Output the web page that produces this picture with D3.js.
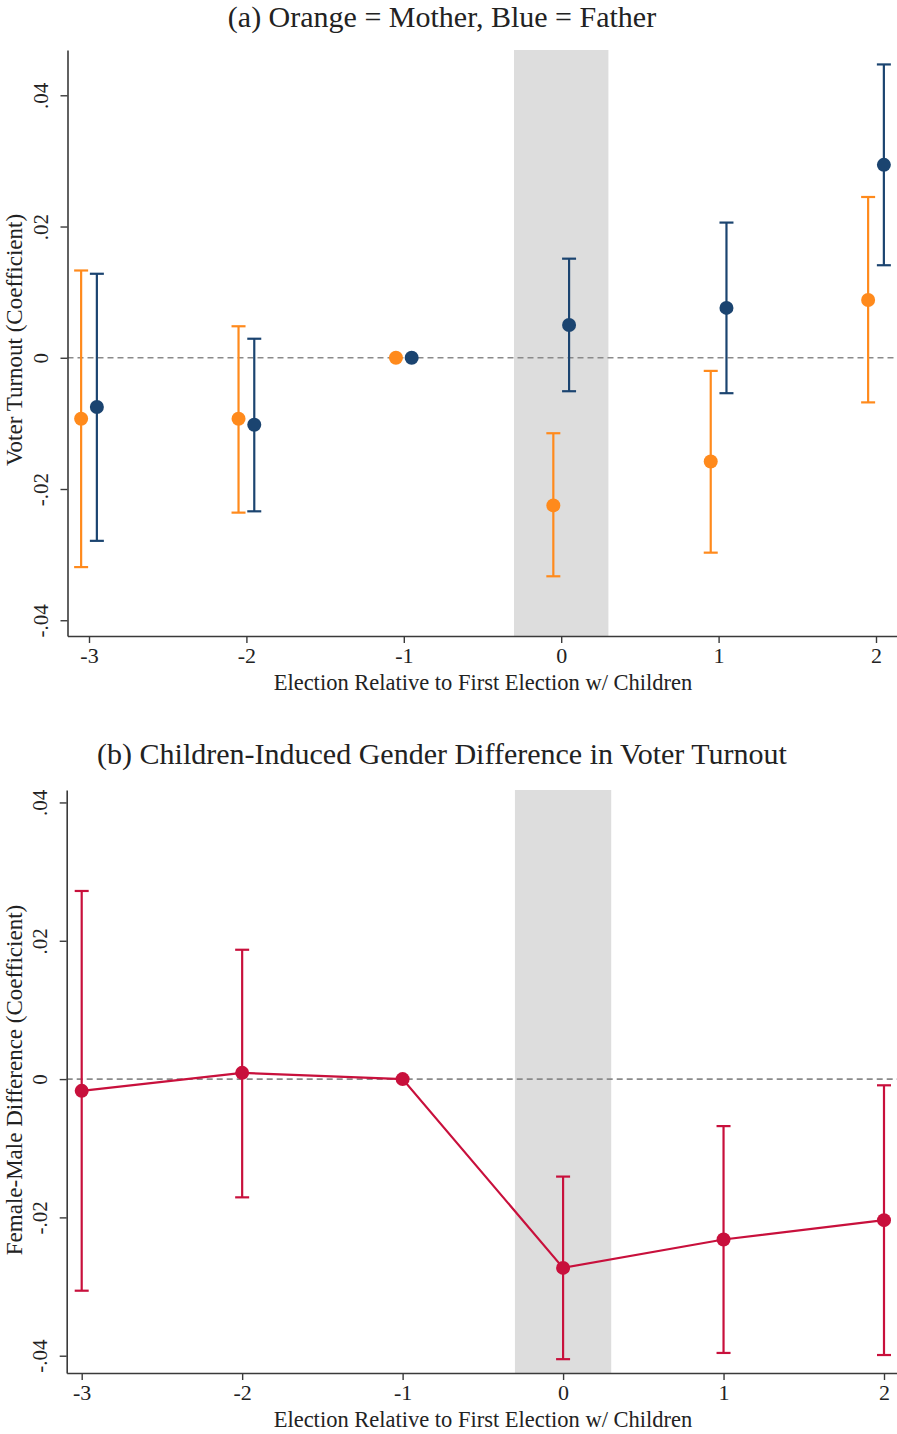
<!DOCTYPE html>
<html><head><meta charset="utf-8">
<script src="https://cdn.jsdelivr.net/npm/d3@7/dist/d3.min.js"></script>
<style>body{margin:0;background:#fff}svg{display:block}text{font-family:"Liberation Serif","Times New Roman",serif;fill:#222}</style>
</head><body>
<script>
const periods = [-3, -2, -1, 0, 1, 2];
const periodLabels = ["-3", "-2", "-1", "0", "1", "2"];
const yTicks = [-0.04, -0.02, 0, 0.02, 0.04];
const yTickLabels = ["-.04", "-.02", "0", ".02", ".04"];
// Panel (a)
const motherCoef = [-0.0093, -0.0093, 0, -0.0225, -0.0158, 0.0088];
const motherLo   = [-0.0319, -0.0236, 0, -0.0333, -0.0297, -0.0068];
const motherHi   = [ 0.0133,  0.0048, 0, -0.0115, -0.0020,  0.0245];
const fatherCoef = [-0.0075, -0.0102, 0,  0.0050,  0.0076,  0.0294];
const fatherLo   = [-0.0279, -0.0234, 0, -0.0051, -0.0054,  0.0141];
const fatherHi   = [ 0.0128,  0.0029, 0,  0.0151,  0.0206,  0.0447];
// Panel (b)
const diffCoef = [-0.0017,  0.0009, 0, -0.0273, -0.0232, -0.0204];
const diffLo   = [-0.0306, -0.0171, 0, -0.0405, -0.0396, -0.0399];
const diffHi   = [ 0.0272,  0.0187, 0, -0.0141, -0.0068, -0.0009];
const shadeRange = [-0.3, 0.3];
const xTitle = "Election Relative to First Election w/ Children";

const W = 897, H = 1434;
const ORANGE = "#FF8A1C", NAVY = "#1B4470", RED = "#C8103C", SHADE = "#DDDDDD", AXIS = "#3a3a3a";
const svg = d3.select("body").append("svg").attr("width", W).attr("height", H);
const fmtY = v => yTickLabels[yTicks.findIndex(t => Math.abs(t - v) < 1e-9)];
const fmtX = v => periodLabels[periods.indexOf(v)];

function panel(cfg) {
  const g = svg.append("g");
  const x = d3.scaleLinear().domain(cfg.xDomain).range(cfg.xRange);
  const y = d3.scaleLinear().domain(cfg.yDomain).range(cfg.yRange);
  const top = cfg.yRange[1], bottom = cfg.yRange[0];
  g.append("rect").attr("x", x(shadeRange[0])).attr("width", x(shadeRange[1]) - x(shadeRange[0]))
    .attr("y", top).attr("height", bottom - top).attr("fill", SHADE);
  g.append("line").attr("x1", cfg.xRange[0]).attr("x2", W).attr("y1", y(0)).attr("y2", y(0))
    .attr("stroke", "#8a8a8a").attr("stroke-width", 1.6).attr("stroke-dasharray", "6,4");
  const ya = g.append("g").attr("transform", `translate(${cfg.xRange[0]},0)`)
    .call(d3.axisLeft(y).tickValues(yTicks).tickFormat(fmtY).tickSize(7).tickSizeOuter(0));
  ya.select(".domain").attr("stroke", AXIS).attr("stroke-width", 1.6);
  ya.selectAll(".tick line").attr("stroke", AXIS).attr("stroke-width", 1.4);
  ya.selectAll(".tick text").attr("font-size", 21).attr("fill", "#222")
    .attr("transform", "rotate(-90)").attr("text-anchor", "middle").attr("x", 0).attr("y", -20).attr("dy", "0");
  const xa = g.append("g").attr("transform", `translate(0,${bottom})`)
    .call(d3.axisBottom(x).tickValues(periods).tickFormat(fmtX).tickSize(7).tickSizeOuter(0));
  xa.select(".domain").attr("stroke", AXIS).attr("stroke-width", 1.6);
  xa.selectAll(".tick line").attr("stroke", AXIS).attr("stroke-width", 1.4);
  xa.selectAll(".tick text").attr("font-size", 22).attr("fill", "#222").attr("y", 11).attr("dy", "0.71em");
  svg.append("text").attr("x", cfg.titleX).attr("y", cfg.titleY).attr("text-anchor", "middle")
    .attr("font-size", cfg.titleSize).text(cfg.title);
  svg.append("text").attr("x", 483).attr("y", bottom + 54).attr("text-anchor", "middle")
    .attr("font-size", 22.5).text(xTitle);
  svg.append("text").attr("transform", `translate(22,${cfg.yTitleY}) rotate(-90)`).attr("text-anchor", "middle")
    .attr("font-size", 23).text(cfg.yTitle);
  return {g, x, y};
}

function errorBars(p, coef, lo, hi, offset, color, cap) {
  const d = periods.map((t, i) => ({t: t + offset, c: coef[i], lo: lo[i], hi: hi[i], ci: t !== -1}));
  const s = p.g.append("g");
  const ci = d.filter(e => e.ci);
  s.selectAll(".v").data(ci).join("line").attr("x1", e => p.x(e.t)).attr("x2", e => p.x(e.t))
    .attr("y1", e => p.y(e.lo)).attr("y2", e => p.y(e.hi)).attr("stroke", color).attr("stroke-width", 2.2);
  ["lo", "hi"].forEach(k => s.selectAll(".c" + k).data(ci).join("line")
    .attr("x1", e => p.x(e.t) - cap).attr("x2", e => p.x(e.t) + cap)
    .attr("y1", e => p.y(e[k])).attr("y2", e => p.y(e[k])).attr("stroke", color).attr("stroke-width", 2.2));
  return {s, d};
}
function dots(p, r, color) {
  r.s.selectAll(".pt").data(r.d).join("circle").attr("cx", e => p.x(e.t)).attr("cy", e => p.y(e.c))
    .attr("r", 7).attr("fill", color);
}

// Panel (a): tick -3 at 89, tick 2 at 876, axis line at 67.5
const ua = (876 - 89) / 5;
const pa = panel({xDomain: [-3 - 21.5 / ua, 2 + (W + 10 - 876) / ua], xRange: [67.5, W + 10],
  yDomain: [-0.0424, 0.0469], yRange: [636, 50],
  title: "(a) Orange = Mother, Blue = Father", titleX: 442, titleY: 27, titleSize: 30,
  yTitle: "Voter Turnout (Coefficient)", yTitleY: 340});
const rm = errorBars(pa, motherCoef, motherLo, motherHi, -0.05, ORANGE, 7);
const rf = errorBars(pa, fatherCoef, fatherLo, fatherHi, 0.05, NAVY, 7);
dots(pa, rm, ORANGE);
dots(pa, rf, NAVY);

// Panel (b): tick -3 at 81.7, tick 2 at 884, axis line at 66.7
const ub = (884 - 81.7) / 5;
const pb = panel({xDomain: [-3 - 15 / ub, 2 + (W + 10 - 884) / ub], xRange: [66.7, W + 10],
  yDomain: [-0.0425, 0.0418], yRange: [1373, 790],
  title: "(b) Children-Induced Gender Difference in Voter Turnout", titleX: 442, titleY: 764, titleSize: 30,
  yTitle: "Female-Male Difference (Coefficient)", yTitleY: 1080});
const rd = errorBars(pb, diffCoef, diffLo, diffHi, 0, RED, 7);
rd.s.insert("path", ":first-child").datum(rd.d)
  .attr("d", d3.line().x(e => pb.x(e.t)).y(e => pb.y(e.c)))
  .attr("fill", "none").attr("stroke", RED).attr("stroke-width", 2.2);
dots(pb, rd, RED);
</script>
</body></html>
